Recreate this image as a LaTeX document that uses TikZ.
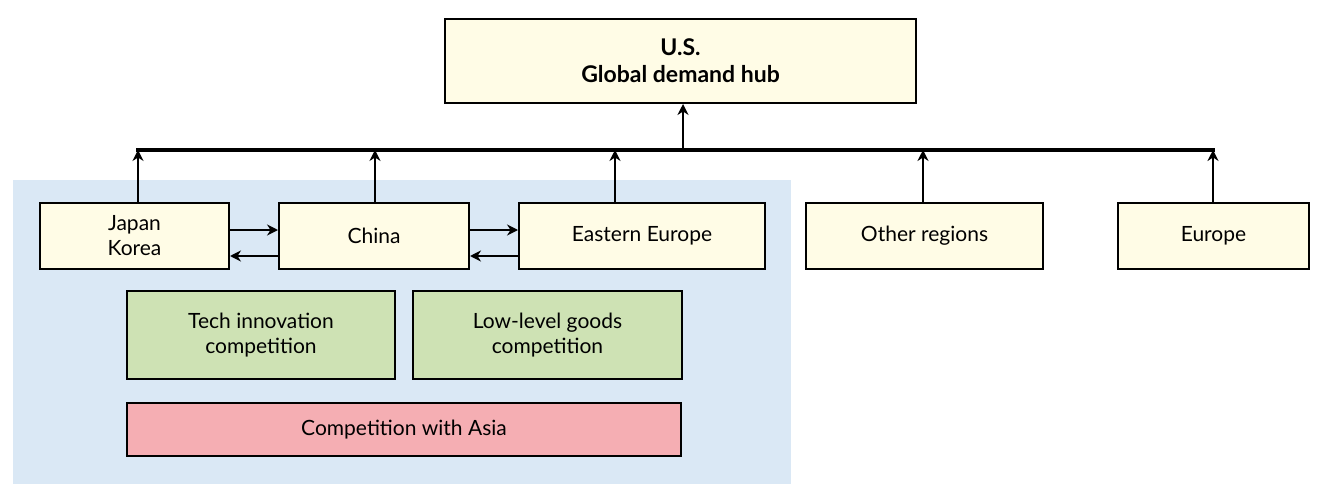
\documentclass[tikz,border=0pt]{standalone}
\usepackage{fontspec}
\setmainfont{Lato}
\usetikzlibrary{arrows.meta}
\definecolor{ybox}{HTML}{FFFCE6}
\definecolor{bluebg}{HTML}{DAE8F5}
\definecolor{gbox}{HTML}{CEE2B4}
\definecolor{pbox}{HTML}{F5AEB3}
\begin{document}
\begin{tikzpicture}[x=1pt,y=-1pt,
  box/.style={draw=black,line width=2pt,align=center,font=\fontsize{21}{25}\selectfont,inner sep=0pt},
  arr/.style={line width=2.5pt,-{Stealth[length=11pt,width=11pt]}}]
\useasboundingbox (0,0) rectangle (1333,495);
\fill[bluebg] (13,180) rectangle (791,484);
\node[box,fill=ybox,minimum width=471,minimum height=84,font=\fontsize{23}{27}\selectfont\bfseries] (us) at (680.5,61) {U.S.\\Global demand hub};
\node[box,fill=ybox,minimum width=189,minimum height=66] (jk) at (134.5,236) {Japan\\Korea};
\node[box,fill=ybox,minimum width=190,minimum height=66] (cn) at (374,236) {China};
\node[box,fill=ybox,minimum width=246,minimum height=66] (ee) at (642,236) {Eastern Europe};
\node[box,fill=ybox,minimum width=237,minimum height=66] (or) at (924.5,236) {Other regions};
\node[box,fill=ybox,minimum width=191,minimum height=66] (eu) at (1213.5,236) {Europe};
\node[box,fill=gbox,minimum width=268,minimum height=88] (ti) at (261,335) {Tech innovation\\competition};
\node[box,fill=gbox,minimum width=269,minimum height=88] (ll) at (547.5,335) {Low-level goods\\competition};
\node[box,fill=pbox,minimum width=554,minimum height=53] (ca) at (404,429.5) {Competition with Asia};
\coordinate (bl) at (136,150); \coordinate (br) at (1215,150);
\draw[line width=4pt] (bl) -- (br);
\coordinate (bm) at (683,150);
\draw[arr] (bm) -- (us.south -| bm);
\foreach \n/\x in {jk/138,cn/375,ee/615,or/923,eu/1213}{
  \draw[arr] (\n.north -| \x,0) -- (\x,150);
}
\draw[arr] (jk.east |- 0,230) -- (cn.west |- 0,230);
\draw[arr] (cn.west |- 0,256) -- (jk.east |- 0,256);
\draw[arr] (cn.east |- 0,230) -- (ee.west |- 0,230);
\draw[arr] (ee.west |- 0,256) -- (cn.east |- 0,256);
\end{tikzpicture}
\end{document}
